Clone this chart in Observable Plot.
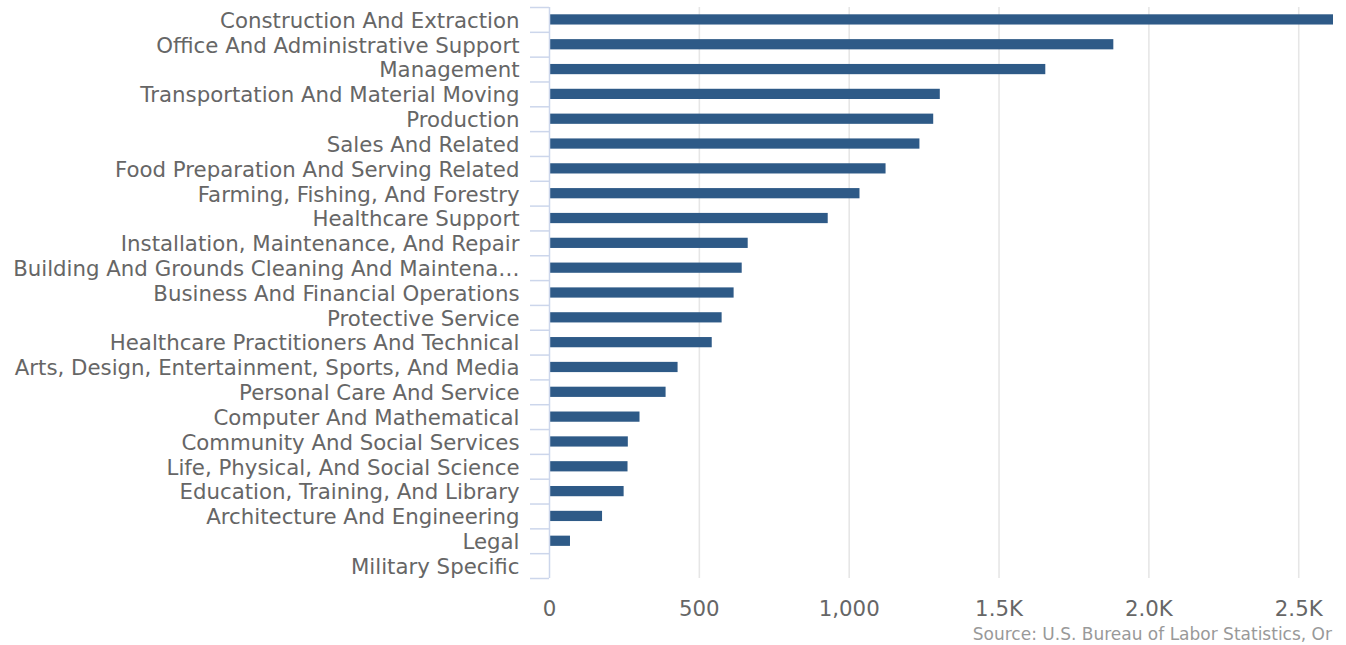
<!DOCTYPE html>
<html>
<head>
<meta charset="utf-8">
<script src="https://cdn.jsdelivr.net/npm/d3@7"></script>
<script src="https://cdn.jsdelivr.net/npm/@observablehq/plot@0.6"></script>
<style>
  html, body { margin: 0; padding: 0; background: #fff; }
  #chart { width: 1346px; }
  #caption {
    width: 1346px; box-sizing: border-box; padding-right: 14px;
    text-align: right; font-family: "DejaVu Sans", sans-serif; font-size: 17px;
    line-height: 17px; color: #999; margin-top: 6px; white-space: nowrap;
  }
</style>
</head>
<body>
<div id="chart"></div>
<div id="caption">Source: U.S. Bureau of Labor Statistics, Or</div>
<script>
const categories = [
  "Construction And Extraction",
  "Office And Administrative Support",
  "Management",
  "Transportation And Material Moving",
  "Production",
  "Sales And Related",
  "Food Preparation And Serving Related",
  "Farming, Fishing, And Forestry",
  "Healthcare Support",
  "Installation, Maintenance, And Repair",
  "Building And Grounds Cleaning And Maintenance",
  "Business And Financial Operations",
  "Protective Service",
  "Healthcare Practitioners And Technical",
  "Arts, Design, Entertainment, Sports, And Media",
  "Personal Care And Service",
  "Computer And Mathematical",
  "Community And Social Services",
  "Life, Physical, And Social Science",
  "Education, Training, And Library",
  "Architecture And Engineering",
  "Legal",
  "Military Specific"
];
const values = [2616, 1883, 1656, 1304, 1282, 1236, 1123, 1036, 930, 663, 643, 616, 576, 543, 429, 389, 302, 263, 262, 249, 177, 70, 0];
const xTicks = [0, 500, 1000, 1500, 2000, 2500];
const xTickLabels = ["0", "500", "1,000", "1.5K", "2.0K", "2.5K"];

const data = categories.map((name, i) => ({name, value: values[i]}));

const W = 1346, H = 620, mTop = 7, mBottom = 42, mLeft = 549, mRight = 13;
const step = (H - mTop - mBottom) / categories.length;
const FS = 21.3;
const FONT = FS + 'px "DejaVu Sans"';

const ctx = document.createElement("canvas").getContext("2d");
ctx.font = FONT;
function fit(label, maxW = 512) {
  if (ctx.measureText(label).width <= maxW) return label;
  let s = label;
  while (s.length > 1 && ctx.measureText(s + "…").width > maxW) s = s.slice(0, -1);
  return s + "…";
}

const axisColor = "#ccd6eb";

const chart = Plot.plot({
  width: W, height: H,
  marginTop: mTop, marginBottom: mBottom, marginLeft: mLeft, marginRight: mRight,
  style: {fontFamily: '"DejaVu Sans", sans-serif', fontSize: FS + "px", color: "#666", background: "#fff", overflow: "visible"},
  x: {domain: [0, d3.max(values)], label: null},
  y: {domain: categories, paddingInner: 0, paddingOuter: 0, round: false, label: null},
  marks: [
    Plot.gridX(xTicks.slice(1), {stroke: "#e6e6e6", strokeOpacity: 1, strokeWidth: 1.6}),
    Plot.barX(data, {x: "value", y: "name", fill: "#2e5a87", insetTop: 7.3, insetBottom: 7.3}),
    Plot.ruleX([0], {stroke: axisColor, strokeWidth: 1.5}),
    Plot.axisY(categories, {tickSize: 19, fill: "none", stroke: axisColor, strokeWidth: 1.5, dy: -step / 2, label: null}),
    Plot.axisY(categories.slice(-1), {tickSize: 19, fill: "none", stroke: axisColor, strokeWidth: 1.5, dy: step / 2, label: null}),
    Plot.axisY({tickSize: 0, tickPadding: 30, fill: "#666", dy: 1, tickFormat: d => fit(d), label: null}),
    Plot.axisX(xTicks, {tickSize: 0, tickPadding: 22, fill: "#666", tickFormat: (d) => xTickLabels[xTicks.indexOf(d)], label: null})
  ]
});
document.getElementById("chart").appendChild(chart);
</script>
</body>
</html>
